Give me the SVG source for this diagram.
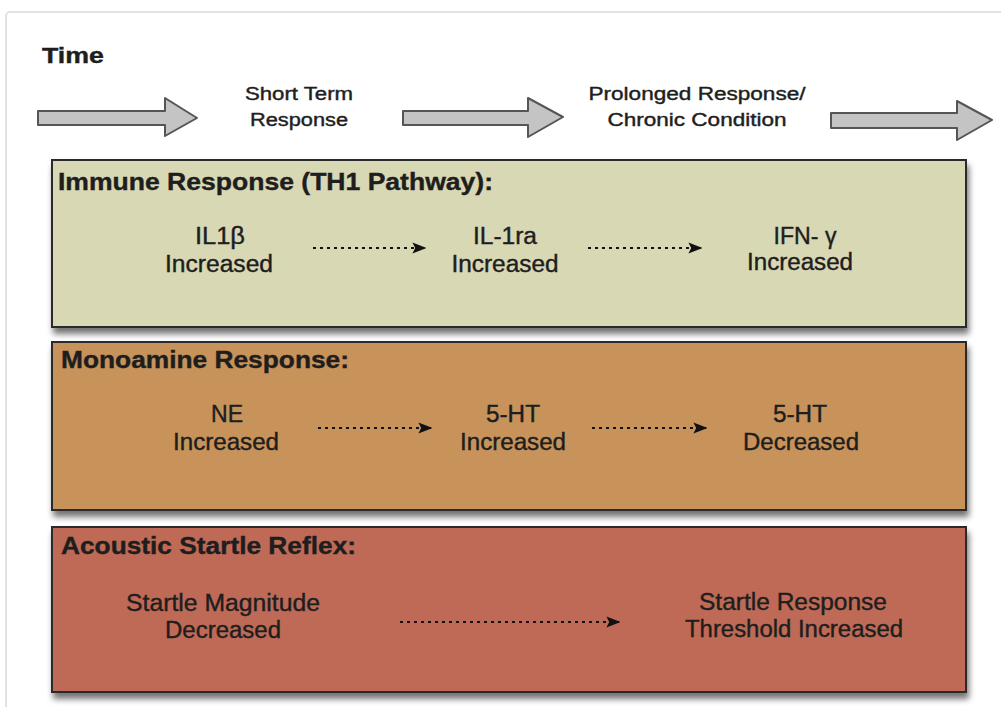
<svg xmlns="http://www.w3.org/2000/svg" width="1001" height="707" viewBox="0 0 1001 707">
<style>
text{font-family:"Liberation Sans",Arial,sans-serif;fill:#1e1e1e;stroke:#1e1e1e;stroke-width:0.4}
.title{font-weight:bold;font-size:24px}
.lbl{font-size:23px;text-anchor:middle}
.tl{font-size:18px;text-anchor:middle}
.panel{stroke:#2a2a2a;stroke-width:2;filter:url(#sh)}
.dot{stroke:#111;stroke-width:2;stroke-dasharray:3 4;fill:none;marker-end:url(#ah)}
.big{fill:#c4c4c4;stroke:#555;stroke-width:2;stroke-linejoin:round}
</style>
<defs>
<filter id="sh" x="-5%" y="-10%" width="115%" height="130%">
<feGaussianBlur in="SourceAlpha" stdDeviation="3"/>
<feOffset dx="2" dy="6" result="b"/>
<feComponentTransfer><feFuncA type="linear" slope="0.55"/></feComponentTransfer>
<feMerge><feMergeNode/><feMergeNode in="SourceGraphic"/></feMerge>
</filter>
<marker id="ah" viewBox="0 0 10 10" refX="9" refY="5" markerWidth="7" markerHeight="7" markerUnits="strokeWidth" orient="auto">
<path d="M0,1 L10,5 L0,9 L2,5 z" fill="#111"/>
</marker>
</defs>
<rect x="0" y="0" width="1001" height="707" fill="#fff"/>
<rect x="6" y="12" width="1010" height="720" rx="4" fill="#fff" stroke="#e2e2e2" stroke-width="2"/>
<text x="42" y="63" class="title" style="font-size:22px" textLength="62" lengthAdjust="spacingAndGlyphs">Time</text>
<g id="timeline">
<path class="big" d="M38,111 H165 V98 L197,118 L165,136 V125 H38 Z"/>
<path class="big" d="M403,111 H528 V98 L563,117 L528,137 V125 H403 Z"/>
<path class="big" d="M831,113 H957 V101 L992,120 L957,140 V128 H831 Z"/>
<text x="299" y="100" class="tl" textLength="108" lengthAdjust="spacingAndGlyphs">Short Term</text>
<text x="299" y="126" class="tl" textLength="98" lengthAdjust="spacingAndGlyphs">Response</text>
<text x="697" y="100" class="tl" textLength="217" lengthAdjust="spacingAndGlyphs">Prolonged Response/</text>
<text x="697" y="126" class="tl" textLength="179" lengthAdjust="spacingAndGlyphs">Chronic Condition</text>
</g>
<g id="immune">
<rect class="panel" x="52" y="160" width="914" height="167" fill="#d9d8b5"/>
<text x="58" y="190" class="title" textLength="435" lengthAdjust="spacingAndGlyphs">Immune Response (TH1 Pathway):</text>
</g>
<g id="il1b"><text x="220" y="244" class="lbl" textLength="50" lengthAdjust="spacingAndGlyphs">IL1β</text><text x="219" y="272" class="lbl" textLength="108" lengthAdjust="spacingAndGlyphs">Increased</text></g>
<g id="il1ra"><text x="505" y="244" class="lbl" textLength="64" lengthAdjust="spacingAndGlyphs">IL-1ra</text><text x="505" y="272" class="lbl" textLength="107" lengthAdjust="spacingAndGlyphs">Increased</text></g>
<g id="ifng"><text x="805" y="244" class="lbl" textLength="63" lengthAdjust="spacingAndGlyphs">IFN- γ</text><text x="800" y="270" class="lbl" textLength="106" lengthAdjust="spacingAndGlyphs">Increased</text></g>
<g id="monoamine">
<rect class="panel" x="52" y="342" width="914" height="168" fill="#c8935a"/>
<text x="61" y="368" class="title" textLength="288" lengthAdjust="spacingAndGlyphs">Monoamine Response:</text>
</g>
<g id="ne"><text x="227" y="422" class="lbl" textLength="32" lengthAdjust="spacingAndGlyphs">NE</text><text x="226" y="450" class="lbl" textLength="106" lengthAdjust="spacingAndGlyphs">Increased</text></g>
<g id="ht1"><text x="513" y="422" class="lbl" textLength="54" lengthAdjust="spacingAndGlyphs">5-HT</text><text x="513" y="450" class="lbl" textLength="106" lengthAdjust="spacingAndGlyphs">Increased</text></g>
<g id="ht2"><text x="800" y="422" class="lbl" textLength="54" lengthAdjust="spacingAndGlyphs">5-HT</text><text x="801" y="450" class="lbl" textLength="116" lengthAdjust="spacingAndGlyphs">Decreased</text></g>
<g id="startle">
<rect class="panel" x="52" y="527" width="914" height="165" fill="#be6b57"/>
<text x="61" y="554" class="title" textLength="295" lengthAdjust="spacingAndGlyphs">Acoustic Startle Reflex:</text>
</g>
<g id="mag"><text x="223" y="611" class="lbl" textLength="194" lengthAdjust="spacingAndGlyphs">Startle Magnitude</text><text x="223" y="638" class="lbl" textLength="116" lengthAdjust="spacingAndGlyphs">Decreased</text></g>
<g id="thr"><text x="793" y="610" class="lbl" textLength="188" lengthAdjust="spacingAndGlyphs">Startle Response</text><text x="794" y="637" class="lbl" textLength="218" lengthAdjust="spacingAndGlyphs">Threshold Increased</text></g>
<g id="connectors">
<line class="dot" x1="313" y1="248" x2="425" y2="248"/>
<line class="dot" x1="588" y1="248" x2="701" y2="248"/>
<line class="dot" x1="318" y1="428" x2="431" y2="428"/>
<line class="dot" x1="592" y1="428" x2="706" y2="428"/>
<line class="dot" x1="400" y1="622" x2="619" y2="622"/>
</g>
</svg>
